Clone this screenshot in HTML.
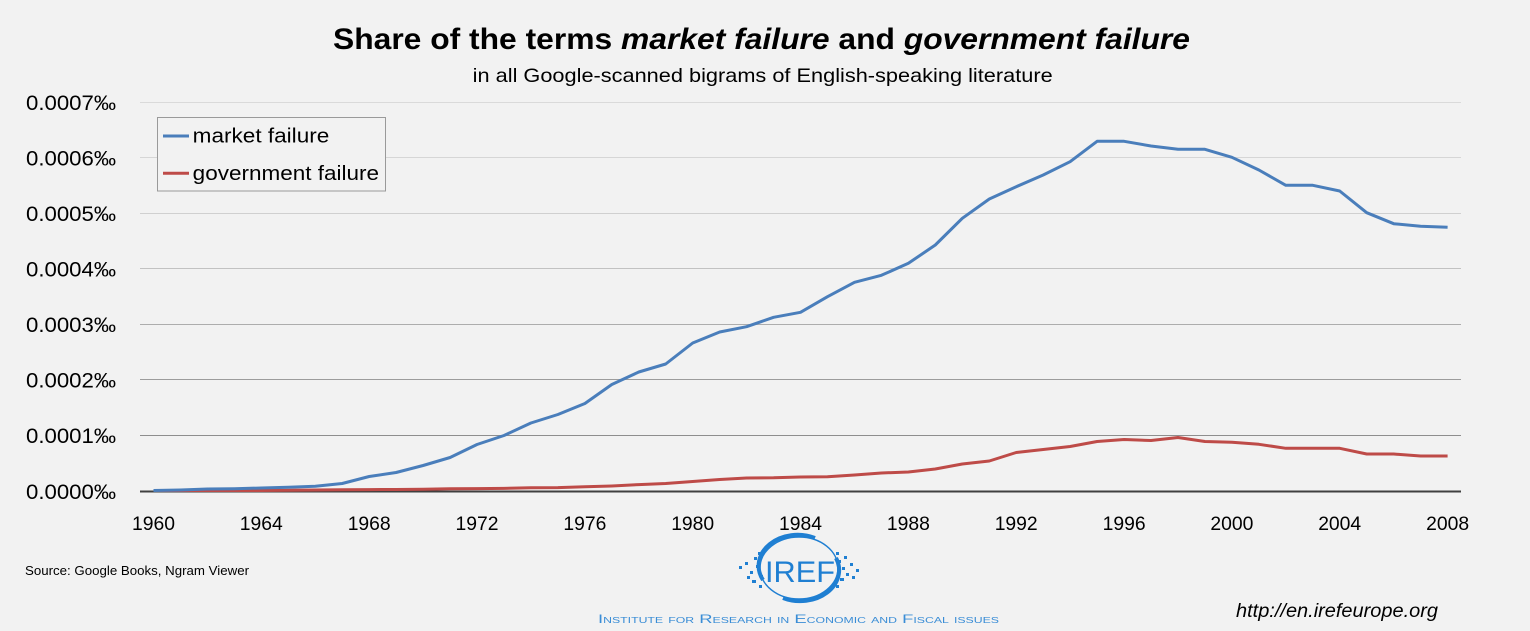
<!DOCTYPE html>
<html><head><meta charset="utf-8"><style>
html,body{margin:0;padding:0;background:#f2f2f2;}
svg{display:block;}
text{font-family:"Liberation Sans",sans-serif;}
</style></head><body>
<svg width="1530" height="631" viewBox="0 0 1530 631" xmlns="http://www.w3.org/2000/svg">
<rect width="1530" height="631" fill="#f2f2f2"/>
<!-- title -->
<text x="333" y="49" font-size="30" font-weight="bold" fill="#000" textLength="857" lengthAdjust="spacingAndGlyphs">Share of the terms <tspan font-style="italic">market failure</tspan> and <tspan font-style="italic">government failure</tspan></text>
<text x="472.7" y="82" font-size="19.5" fill="#000" textLength="580" lengthAdjust="spacingAndGlyphs">in all Google-scanned bigrams of English-speaking literature</text>
<!-- gridlines -->
<g stroke-width="1" shape-rendering="crispEdges">
<line x1="140" x2="1461" y1="102.5" y2="102.5" stroke="#dadada"/>
<line x1="140" x2="1461" y1="157.5" y2="157.5" stroke="#d6d6d6"/>
<line x1="140" x2="1461" y1="213.5" y2="213.5" stroke="#d0d0d0"/>
<line x1="140" x2="1461" y1="268.5" y2="268.5" stroke="#c2c2c2"/>
<line x1="140" x2="1461" y1="324.5" y2="324.5" stroke="#adadad"/>
<line x1="140" x2="1461" y1="379.5" y2="379.5" stroke="#9c9c9c"/>
<line x1="140" x2="1461" y1="435.5" y2="435.5" stroke="#8e8e8e"/>
</g>
<line x1="140" x2="1461" y1="491.5" y2="491.5" stroke="#404040" stroke-width="2"/>
<!-- y labels -->
<g font-size="21" fill="#000" text-anchor="end">
<text x="116" y="110" textLength="90" lengthAdjust="spacingAndGlyphs">0.0007‰</text>
<text x="116" y="165.5" textLength="90" lengthAdjust="spacingAndGlyphs">0.0006‰</text>
<text x="116" y="221" textLength="90" lengthAdjust="spacingAndGlyphs">0.0005‰</text>
<text x="116" y="276.5" textLength="90" lengthAdjust="spacingAndGlyphs">0.0004‰</text>
<text x="116" y="332" textLength="90" lengthAdjust="spacingAndGlyphs">0.0003‰</text>
<text x="116" y="387.5" textLength="90" lengthAdjust="spacingAndGlyphs">0.0002‰</text>
<text x="116" y="443" textLength="90" lengthAdjust="spacingAndGlyphs">0.0001‰</text>
<text x="116" y="499" textLength="90" lengthAdjust="spacingAndGlyphs">0.0000‰</text>
</g>
<!-- x labels -->
<g font-size="19.5" fill="#000" text-anchor="middle">
<text x="153.5" y="530" textLength="43" lengthAdjust="spacingAndGlyphs">1960</text>
<text x="261.3" y="530" textLength="43" lengthAdjust="spacingAndGlyphs">1964</text>
<text x="369.2" y="530" textLength="43" lengthAdjust="spacingAndGlyphs">1968</text>
<text x="477" y="530" textLength="43" lengthAdjust="spacingAndGlyphs">1972</text>
<text x="584.9" y="530" textLength="43" lengthAdjust="spacingAndGlyphs">1976</text>
<text x="692.7" y="530" textLength="43" lengthAdjust="spacingAndGlyphs">1980</text>
<text x="800.5" y="530" textLength="43" lengthAdjust="spacingAndGlyphs">1984</text>
<text x="908.4" y="530" textLength="43" lengthAdjust="spacingAndGlyphs">1988</text>
<text x="1016.2" y="530" textLength="43" lengthAdjust="spacingAndGlyphs">1992</text>
<text x="1124.1" y="530" textLength="43" lengthAdjust="spacingAndGlyphs">1996</text>
<text x="1231.9" y="530" textLength="43" lengthAdjust="spacingAndGlyphs">2000</text>
<text x="1339.7" y="530" textLength="43" lengthAdjust="spacingAndGlyphs">2004</text>
<text x="1447.6" y="530" textLength="43" lengthAdjust="spacingAndGlyphs">2008</text>
</g>
<!-- series -->
<polyline fill="none" stroke="#be4b48" stroke-width="3" stroke-linejoin="round" points="153.5,490.5 180.5,490.5 207.4,490.5 234.4,490.5 261.3,490.5 288.3,490.3 315.3,490 342.2,489.8 369.2,489.6 396.1,489.5 423.1,489.3 450.1,488.8 477,488.6 504,488.4 530.9,487.8 557.9,487.6 584.9,486.8 611.8,486 638.8,484.6 665.7,483.5 692.7,481.5 719.7,479.5 746.6,478 773.6,477.8 800.5,477 827.5,476.8 854.5,475 881.4,473 908.4,472 935.3,469 962.3,464 989.3,461 1016.2,452.5 1043.2,449.5 1070.1,446.5 1097.1,441.5 1124.1,439.5 1151,440.5 1178,437.5 1204.9,441.5 1231.9,442.3 1258.9,444.3 1285.8,448.3 1312.8,448.3 1339.7,448.3 1366.7,454 1393.7,454 1420.6,456 1447.6,456"/>
<polyline fill="none" stroke="#4a7ebb" stroke-width="3" stroke-linejoin="round" points="153.5,490.5 180.5,490 207.4,489 234.4,488.7 261.3,488 288.3,487.2 315.3,486.3 342.2,483.5 369.2,476.5 396.1,472.5 423.1,465.5 450.1,457.5 477,444.5 504,435.5 530.9,423 557.9,414.5 584.9,403.5 611.8,384.5 638.8,372 665.7,364 692.7,343 719.7,332 746.6,326.7 773.6,317.3 800.5,312.3 827.5,296.7 854.5,282.3 881.4,275.3 908.4,263.3 935.3,245 962.3,218.3 989.3,199 1016.2,186.7 1043.2,175 1070.1,161.7 1097.1,141.3 1124.1,141.3 1151,146 1178,149.3 1204.9,149.3 1231.9,157.3 1258.9,170 1285.8,185.3 1312.8,185.3 1339.7,191 1366.7,212.7 1393.7,223.7 1420.6,226.3 1447.6,227.3"/>
<!-- legend -->
<rect x="157.5" y="117.5" width="228" height="73.5" fill="#f2f2f2" stroke="#9a9a9a" stroke-width="1"/>
<line x1="163" x2="189" y1="136" y2="136" stroke="#4a7ebb" stroke-width="3"/>
<line x1="163" x2="189" y1="173.3" y2="173.3" stroke="#be4b48" stroke-width="3"/>
<text x="192.7" y="142.7" font-size="20" fill="#000" textLength="136.6" lengthAdjust="spacingAndGlyphs">market failure</text>
<text x="192.7" y="180" font-size="20" fill="#000" textLength="186.3" lengthAdjust="spacingAndGlyphs">government failure</text>
<!-- source -->
<text x="25" y="575" font-size="13" fill="#000" textLength="224" lengthAdjust="spacingAndGlyphs">Source: Google Books, Ngram Viewer</text>
<!-- logo -->
<g fill="none" stroke="#1f7fd2">
<ellipse cx="799" cy="568" rx="39" ry="31" stroke-width="1.5"/>
<path d="M763,580 A39,31 0 0 1 815,538" stroke-width="4"/>
<path d="M836,558 A39,31 0 0 1 783,598" stroke-width="4"/>
</g>
<text x="800" y="582" font-size="30" fill="#1f7fd2" text-anchor="middle" textLength="70" lengthAdjust="spacingAndGlyphs">IREF</text>
<g fill="#1f7fd2">
<rect x="739" y="566" width="3" height="3"/><rect x="745" y="562" width="3" height="3"/><rect x="750" y="571" width="3" height="3"/>
<rect x="754" y="557" width="3" height="3"/><rect x="756" y="565" width="3" height="3"/><rect x="752" y="580" width="4" height="3"/>
<rect x="758" y="552" width="3" height="3"/><rect x="760" y="575" width="3" height="3"/><rect x="747" y="576" width="3" height="3"/>
<rect x="759" y="585" width="3" height="3"/>
<rect x="836" y="552" width="3" height="3"/><rect x="838" y="560" width="3" height="3"/><rect x="842" y="567" width="3" height="3"/>
<rect x="846" y="573" width="3" height="3"/><rect x="850" y="563" width="3" height="3"/><rect x="856" y="569" width="3" height="3"/>
<rect x="840" y="578" width="4" height="3"/><rect x="836" y="585" width="3" height="3"/><rect x="852" y="576" width="3" height="3"/>
<rect x="844" y="556" width="3" height="3"/>
</g>
<text x="598" y="623" font-size="12" fill="#3a8dd6" style="font-variant:small-caps" textLength="401" lengthAdjust="spacingAndGlyphs">Institute for Research in Economic and Fiscal issues</text>
<!-- url -->
<text x="1236" y="617" font-size="19" font-style="italic" fill="#000" textLength="202" lengthAdjust="spacingAndGlyphs">http://en.irefeurope.org</text>
</svg>
</body></html>
